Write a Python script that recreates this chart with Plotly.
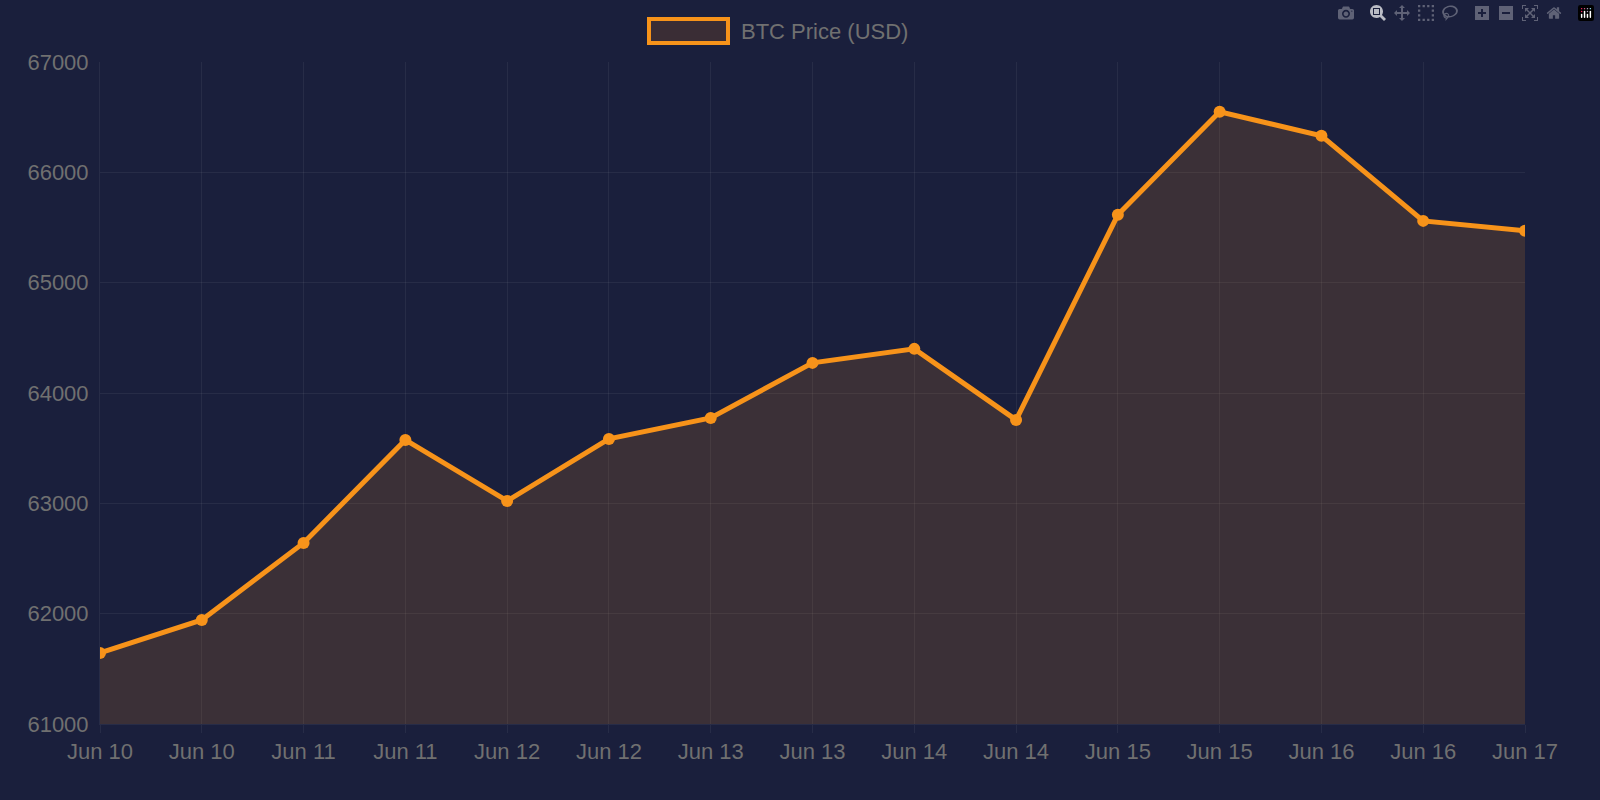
import plotly.graph_objects as go

labels = ["Jun 10","Jun 10","Jun 11","Jun 11","Jun 12","Jun 12","Jun 13","Jun 13",
          "Jun 14","Jun 14","Jun 15","Jun 15","Jun 16","Jun 16","Jun 17"]
prices = [61644,61943,62641,63575,63022,63584,63774,64273,64400,63756,65615,66549,66331,65560,65470]
series_name = "BTC Price (USD)"
idx = list(range(len(labels)))

fig = go.Figure(go.Scatter(
    x=idx, y=prices, mode="lines+markers", name=series_name,
    line=dict(color="#f7931a", width=5), marker=dict(size=12, color="#f7931a"),
    fill="tozeroy", fillcolor="rgba(247,147,26,0.15)"))

grid = "rgba(255,255,255,0.06)"
fig.update_layout(
    width=1600, height=800, paper_bgcolor="#1a1f3c", plot_bgcolor="#1a1f3c",
    margin=dict(l=100, r=75, t=62, b=76),
    font=dict(family="Liberation Sans, Arial", size=22, color="#707070"),
    showlegend=False,
    xaxis=dict(range=[0, 14], tickvals=idx, ticktext=labels, showgrid=True, gridcolor=grid,
               zeroline=False, ticks="outside", ticklen=8, tickcolor=grid,
               showline=True, linecolor=grid),
    yaxis=dict(range=[61000, 67000], dtick=1000, tickformat="d", showgrid=True, gridcolor=grid,
               zeroline=False, showline=True, linecolor=grid, ticks="", ticklabelstandoff=6),
    shapes=[dict(type="rect", xref="paper", yref="paper",
                 x0=(649-100)/1425, x1=(728-100)/1425,
                 y0=1+(62-43)/662, y1=1+(62-19)/662,
                 line=dict(color="#f7931a", width=4), fillcolor="#3a2d35")],
    annotations=[dict(text=series_name, xref="paper", yref="paper",
                      x=(739-100)/1425, y=1+(62-31)/662, xanchor="left", yanchor="middle",
                      showarrow=False, font=dict(size=22, color="#707070"))],
)
fig.write_html("out.html", post_script="document.body.style.margin='0';")
